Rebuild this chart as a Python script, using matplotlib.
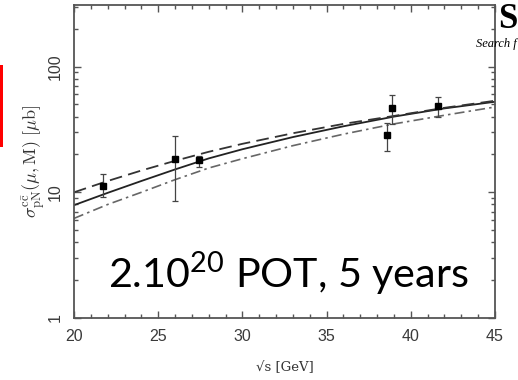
import numpy as np
import matplotlib
matplotlib.use('Agg')
import matplotlib.pyplot as plt
from matplotlib.ticker import FixedLocator, FixedFormatter, LogLocator, NullFormatter, MultipleLocator
from matplotlib.patches import Rectangle

# data points (sqrt(s), sigma, err low, err high)
pt_x = [21.7, 26.0, 27.4, 38.6, 38.9, 41.6]
pt_y = [11.2, 18.4, 18.0, 28.6, 47.0, 48.7]
pt_lo = [9.1, 8.6, 16.0, 21.3, 35.0, 39.8]
pt_hi = [14.1, 28.0, 19.5, 35.6, 59.7, 57.5]

# theory curves
curve_x = [20, 22, 24, 26, 28, 30, 33, 36, 39, 42, 45]
solid_y = [7.9, 9.9, 12.3, 15.2, 18.6, 22.0, 27.5, 33.5, 40.0, 46.5, 52.5]
dashed_y = [10.0, 12.3, 14.9, 17.8, 21.0, 24.3, 29.5, 35.0, 40.5, 47.0, 53.5]
dashdot_y = [6.2, 8.0, 10.0, 12.6, 15.6, 18.5, 23.5, 29.0, 35.0, 41.0, 47.7]

yticks = [1, 10, 100]
ytick_labels = ['1', '10', '100']

fig = plt.figure(figsize=(5.18, 3.80), dpi=100)
ax = fig.add_axes([74/518, 1-318/380, (495-74)/518, (318-5)/380])

gray = '#555555'
ax.plot(curve_x, solid_y, color='#222222', lw=1.3)
ax.plot(curve_x, dashed_y, color='#333333', lw=1.3, dashes=(7, 3.5))
ax.plot(curve_x, dashdot_y, color='#666666', lw=1.2, dashes=(6, 2.5, 1.5, 2.5))

y = np.array(pt_y)
yerr = [y - np.array(pt_lo), np.array(pt_hi) - y]
ax.errorbar(pt_x, pt_y, yerr=yerr, fmt='s', color='black', ms=4,
            ecolor='#444444', elinewidth=0.9, capsize=2.5, capthick=0.9)

ax.set_yscale('log')
ax.set_xlim(20, 45)
ax.set_ylim(1, 309)
ax.xaxis.set_major_locator(MultipleLocator(5))
ax.xaxis.set_minor_locator(MultipleLocator(1))
ax.yaxis.set_major_locator(FixedLocator(yticks))
ax.yaxis.set_major_formatter(FixedFormatter(ytick_labels))
ax.yaxis.set_minor_locator(LogLocator(base=10, subs=np.arange(2, 10)))
ax.yaxis.set_minor_formatter(NullFormatter())

ax.tick_params(which='both', direction='in', top=True, right=True, color=gray, width=1)
ax.tick_params(which='major', length=5, labelsize=11.5, labelcolor='#3a3a3a')
ax.tick_params(which='minor', length=3)
ax.tick_params(axis='y', labelrotation=90, pad=8)
ax.tick_params(axis='x', pad=8)
for lab in ax.get_yticklabels():
    lab.set_va('center')
for lab in ax.get_xticklabels() + ax.get_yticklabels():
    lab.set_fontfamily('Liberation Sans')
for s in ax.spines.values():
    s.set_color(gray)
    s.set_linewidth(1.3)

ax.set_ylabel(r'$\sigma^{\rm c\bar{c}}_{\rm pN}(\mu,{\rm M})\ [\mu{\rm b}]$',
              math_fontfamily='cm', fontsize=13, color='#333333', labelpad=0)
ax.set_xlabel('\u221as [GeV]', fontfamily='DejaVu Serif',
              fontsize=9.5, color='#333333', labelpad=12)

# slide overlay text
fig.text(108/518, 1-288/380, r'2.10$^{\mathregular{20}}$ POT, 5 years',
         fontfamily='Lato', fontsize=29.7, color='black', va='baseline', ha='left')
fig.text(498/518, 1-28/380, 'S', fontfamily='Liberation Serif', fontweight='bold',
         fontsize=25, va='baseline', ha='left')
fig.text(476/518, 1-47/380, 'Search f', fontfamily='Liberation Serif', style='italic',
         fontsize=9, va='baseline', ha='left')
fig.patches.append(Rectangle((0, 1-147/380), 3/518, 82/380, transform=fig.transFigure,
                             facecolor='red', edgecolor='none'))

fig.savefig('out.png', dpi=100)
